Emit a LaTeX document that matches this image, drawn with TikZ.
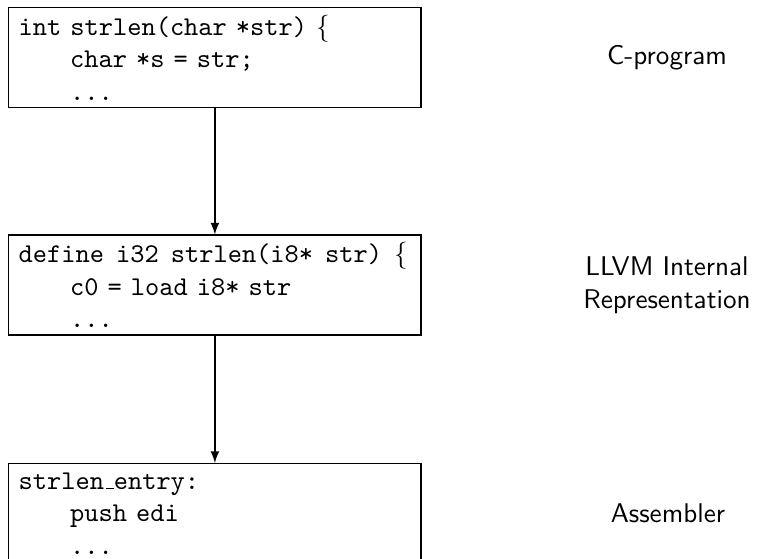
\documentclass[tikz,border=0pt]{standalone}
\usetikzlibrary{arrows}
\newcommand{\firstln}{\hspace*{1.85pt}}
\newcommand{\indln}{\hspace*{20.85pt}}
\newcommand{\nsp}{\hspace{4.45pt}}
\newcommand{\fixtt}{\ttfamily\spaceskip=5.25pt\relax\xspaceskip=5.25pt\relax}
\begin{document}
\begin{tikzpicture}[x=0.369pt,y=-0.369pt,
  codebox/.style={draw, line width=0.5pt, minimum width=152.2pt, minimum height=36.9pt,
    text width=148.5pt, inner xsep=1.85pt, inner ysep=0pt, align=left,
    font=\fixtt, anchor=north west},
  lbl/.style={font=\sffamily, align=center},
  flow/.style={-latex, line width=0.5pt}]
\useasboundingbox (0,0) rectangle (759,559);
\node[codebox] (c) at (8,7) {\firstln int strlen(char *str) $\{$\\\indln char *s = str;\\\indln ...};
\node[codebox] (l) at (8,234.5) {\firstln\rlap{define\nsp i32\nsp strlen(i8*\nsp str)\nsp$\{$}\\\indln c0 = load i8* str\\\indln ...};
\node[codebox] (a) at (8,463) {\firstln strlen\kern.06em\vbox{\hrule width.3em}entry:\\\indln push edi\\\indln ...};
\node[lbl] (cl) at (667,58) {C-program};
\node[lbl] (ll) at (667,285) {LLVM Internal\\Representation};
\node[lbl] (al) at (668,513) {Assembler};
\draw[flow] (c.south) -- (l.north);
\draw[flow] (l.south) -- (a.north);
\end{tikzpicture}
\end{document}
